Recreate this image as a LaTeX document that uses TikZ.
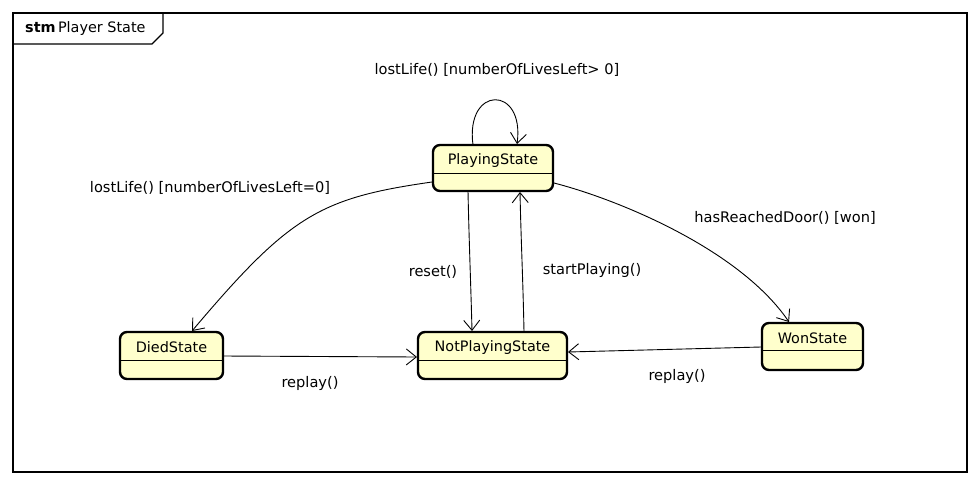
\documentclass[tikz,border=0pt]{standalone}
\usepackage{fontspec}
\setmainfont{DejaVu Sans}
\usetikzlibrary{arrows.meta,calc}
\tikzset{
  statebox/.style={draw=black, line width=2.4pt, rounded corners=7pt, fill=stfill, inner sep=0pt},
  divline/.style={draw=black, line width=0.8pt},
  trans/.style={draw=black, line width=0.9pt, -{Straight Barb[length=10pt,width=16pt,line width=0.9pt]}},
  lbl/.style={font=\fontsize{14.6}{16}\selectfont, inner sep=1pt},
  sname/.style={font=\fontsize{14.4}{16}\selectfont, inner sep=0pt},
}
\definecolor{stfill}{HTML}{FFFFCC}
\begin{document}
\begin{tikzpicture}[x=1pt,y=-1pt]
\useasboundingbox (0,0) rectangle (980,485);
% frame
\draw[line width=1.3pt] (13,13) rectangle (967,472);
\draw[line width=1.1pt] (13,44) -- (152,44) -- (163,33) -- (163,13);
\node[anchor=west, font=\fontsize{14.4}{16}\selectfont, inner sep=0pt] (title) at (25,29) {\textbf{stm}\,Player State};
% states
\node[statebox, minimum width=120pt, minimum height=46pt] (ps) at (493,168) {};
\draw[divline] ([yshift=-30pt]ps.north west) -- ([yshift=-30pt]ps.north east);
\node[sname] (psn) at ([yshift=-17pt]ps.north) {PlayingState};

\node[statebox, minimum width=103pt, minimum height=47pt] (ds) at (171.5,355.5) {};
\draw[divline] ([yshift=-30pt]ds.north west) -- ([yshift=-30pt]ds.north east);
\node[sname] (dsn) at ([yshift=-16.5pt]ds.north) {DiedState};

\node[statebox, minimum width=149pt, minimum height=47pt] (nps) at (492.5,355.5) {};
\draw[divline] ([yshift=-30pt]nps.north west) -- ([yshift=-30pt]nps.north east);
\node[sname] (npsn) at ([yshift=-16.5pt]nps.north) {NotPlayingState};

\node[statebox, minimum width=101pt, minimum height=47pt] (ws) at (812.5,346.5) {};
\draw[divline] ([yshift=-29pt]ws.north west) -- ([yshift=-29pt]ws.north east);
\node[sname] (wsn) at ([yshift=-16pt]ws.north) {WonState};

% connector endpoints
\coordinate (a1) at (473,145);
\coordinate (a2) at (517,144);
\coordinate (b1) at (432,182);
\coordinate (b2) at (192,331);
\coordinate (c1) at (468,191);
\coordinate (c2) at (472,331);
\coordinate (d1) at (524,332);
\coordinate (d2) at (520,192);
\coordinate (e1) at (554,183);
\coordinate (e2) at (789,322);
\coordinate (f1) at (223,356);
\coordinate (f2) at (417,357);
\coordinate (g1) at (761,347);
\coordinate (g2) at (568,352);

% transitions
\draw[trans] (a1) .. controls (465,85) and (525,85) .. (a2);
\draw[trans] (b1) .. controls (320,198) and (290,215) .. (b2);
\draw[trans] (c1) .. controls (469,240) and (471,290) .. (c2);
\draw[trans] (d1) .. controls (523,280) and (521,240) .. (d2);
\draw[trans] (e1) .. controls (620,200) and (740,250) .. (e2);
\draw[trans] (f1) -- (f2);
\draw[trans] (g1) -- (g2);

% labels
\node[lbl] (l1) at (497,70) {lostLife() [numberOfLivesLeft> 0]};
\node[lbl] (l2) at (210,188) {lostLife() [numberOfLivesLeft=0]};
\node[lbl] (l3) at (433,272) {reset()};
\node[lbl] (l4) at (592,270) {startPlaying()};
\node[lbl] (l5) at (785,218) {hasReachedDoor() [won]};
\node[lbl] (l6) at (310,383) {replay()};
\node[lbl] (l7) at (677,376) {replay()};
\end{tikzpicture}
\end{document}
